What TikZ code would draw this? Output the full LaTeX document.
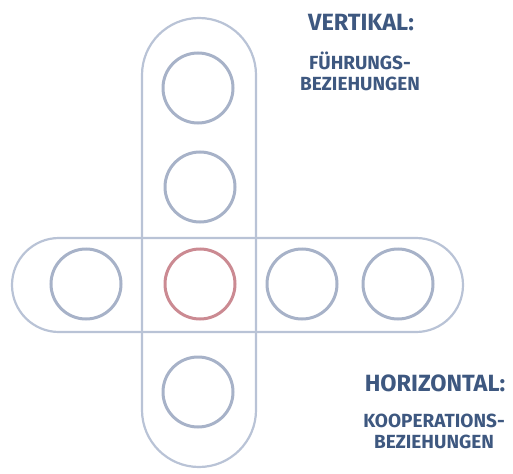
\documentclass[tikz,border=0pt]{standalone}
\usepackage{fontspec}
\setmainfont{Fira Sans}
\usepackage{xcolor}
\usepackage{tikz}
\definecolor{frameLine}{HTML}{B9C3D6}
\definecolor{ringBlue}{HTML}{A7B2C8}
\definecolor{ringRed}{HTML}{CB8A92}
\definecolor{labelInk}{HTML}{3E5880}

\begin{document}
\begin{tikzpicture}[
  x=1pt,y=-1pt,
  pill/.style={draw=frameLine,line width=2.2pt},
  ring/.style={circle,draw=ringBlue,line width=3pt,minimum size=70pt,inner sep=0pt},
  redring/.style={ring,draw=ringRed},
  head/.style={font=\bfseries\fontsize{23.5}{27}\selectfont,text=labelInk,align=center,inner sep=0pt},
  sub/.style={font=\bfseries\fontsize{19}{21}\selectfont,text=labelInk,align=center,inner sep=0pt}
]
\useasboundingbox (0,0) rectangle (513,473);
% frames
\draw[pill,rounded corners=57pt] (142,18) rectangle (256,467);
\draw[pill,rounded corners=47pt] (12,238) rectangle (463,332);
% rings
\node[ring] (top) at (198,88) {};
\node[ring] (upper) at (200,187) {};
\node[redring] (mid) at (200,284) {};
\node[ring] (low) at (198,392) {};
\node[ring] (left) at (86,284) {};
\node[ring] (right) at (302,284) {};
\node[ring] (far) at (398,284) {};
% labels
\node[head] (vert) at (361,23) {VERTIKAL:};
\node[sub] (vsub) at (360,71) {FÜHRUNGS-\\BEZIEHUNGEN};
\node[head] (hori) at (435,383) {HORIZONTAL:};
\node[sub] (hsub) at (434,431) {KOOPERATIONS-\\BEZIEHUNGEN};
\end{tikzpicture}
\end{document}
